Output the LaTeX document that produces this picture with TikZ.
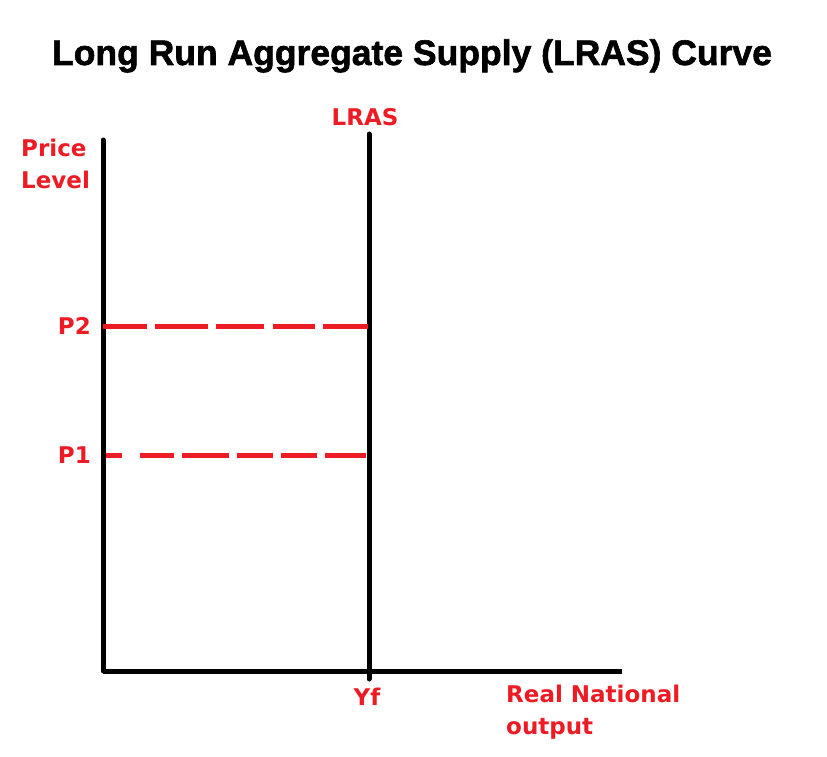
\documentclass[tikz,border=0pt]{standalone}
\usepackage{fontspec}
\setmainfont{DejaVu Sans}
\newfontfamily\titlefont[BoldFeatures={FakeBold=1.6}]{Liberation Sans}
\definecolor{mred}{HTML}{ED1C24}
\begin{document}
\begin{tikzpicture}[x=1pt,y=-1pt,
  lbl/.style={text=mred,font=\fontsize{23}{23}\selectfont\bfseries,inner sep=0pt},
  axis/.style={line width=5pt,draw=black},
  guide/.style={line width=5pt,draw=mred}]
\useasboundingbox[fill=white] (0,0) rectangle (827,757);
\node[inner sep=0pt,anchor=base,font=\titlefont\fontsize{35.5}{35.5}\selectfont\bfseries] (title) at (412,65) {Long Run Aggregate Supply (LRAS) Curve};
% axes
\coordinate (ytop) at (103,140);
\coordinate (origin) at (103,671);
\coordinate (xend) at (622,671);
\coordinate (ltop) at (369,134);
\coordinate (lbot) at (369,679);
\draw[axis,line cap=round] (ytop) -- (origin);
\draw[axis] (origin) -- (xend);
\draw[axis,line cap=round] (ltop) -- (lbot);
% dashed guides
\coordinate (p2a) at (103,326);
\coordinate (p2b) at (368,326);
\coordinate (p1a) at (106,455);
\coordinate (p1b) at (366,455);
\draw[guide,dash pattern=on 44pt off 8pt on 53pt off 8pt on 48pt off 9pt on 42pt off 8pt on 60pt off 10pt] (p2a) -- (p2b);
\draw[guide,dash pattern=on 16pt off 18pt on 34pt off 8pt on 47pt off 8pt on 36pt off 8pt on 36pt off 8pt on 60pt off 10pt] (p1a) -- (p1b);
% labels
\node[lbl,anchor=base west] (price) at (21,157) {Price};
\node[lbl,anchor=base west] (level) at (21,188) {Level};
\node[lbl,anchor=base] (lras) at (365,126) {LRAS};
\node[lbl,anchor=base east] (p2) at (91,334.5) {P2};
\node[lbl,anchor=base east] (p1) at (91,463.5) {P1};
\node[lbl,anchor=base] (yf) at (367,705) {Yf};
\node[lbl,anchor=base west] (rno1) at (506,702) {Real National};
\node[lbl,anchor=base west] (rno2) at (506,734) {output};
\end{tikzpicture}
\end{document}
